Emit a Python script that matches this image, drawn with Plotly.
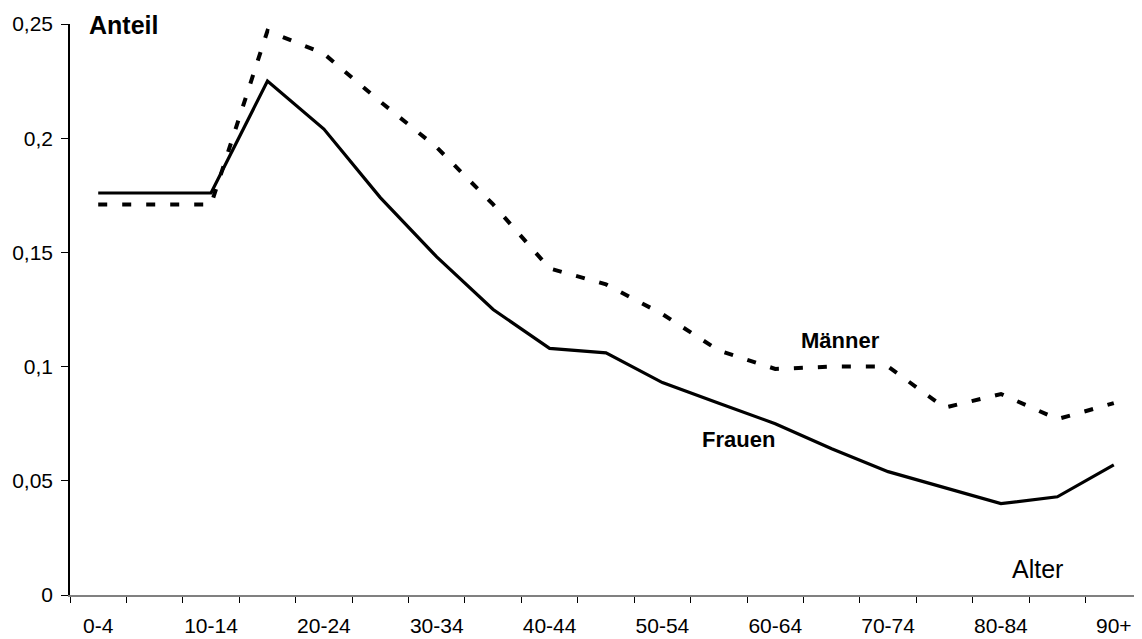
import plotly.graph_objects as go

# Altersgruppen (5-Jahres-Klassen)
age_groups = ['0-4', '5-9', '10-14', '15-19', '20-24', '25-29', '30-34', '35-39',
              '40-44', '45-49', '50-54', '55-59', '60-64', '65-69', '70-74',
              '75-79', '80-84', '85-89', '90+']

# Anteil je Altersgruppe
frauen = [0.176, 0.176, 0.176, 0.225, 0.204, 0.174, 0.148, 0.125, 0.108, 0.106,
          0.093, 0.084, 0.075, 0.064, 0.054, 0.047, 0.040, 0.043, 0.057]
maenner = [0.171, 0.171, 0.171, 0.247, 0.237, 0.216, 0.196, 0.171, 0.143, 0.136,
           0.123, 0.107, 0.099, 0.100, 0.100, 0.082, 0.088, 0.077, 0.084]

y_ticks = [0, 0.05, 0.1, 0.15, 0.2, 0.25]
y_ticktext = ['0', '0,05', '0,1', '0,15', '0,2', '0,25']

font_family = 'Arial, Liberation Sans, sans-serif'

fig = go.Figure()
fig.add_trace(go.Scatter(x=age_groups, y=maenner, mode='lines', name='Männer',
                         line=dict(color='black', width=4, dash='9px,15px')))
fig.add_trace(go.Scatter(x=age_groups, y=frauen, mode='lines', name='Frauen',
                         line=dict(color='black', width=3.2)))

# page body has an 8px margin, so the figure is 8px smaller and margins shifted
fig.update_layout(
    width=1134, height=631,
    margin=dict(l=62, r=0, t=16, b=44),
    plot_bgcolor='white', paper_bgcolor='white',
    showlegend=False,
    font=dict(family=font_family, size=21, color='black'),
    xaxis=dict(
        type='category',
        range=[-0.5, len(age_groups) - 0.5],
        tickmode='array',
        tickvals=age_groups,
        ticktext=[a if i % 2 == 0 else '' for i, a in enumerate(age_groups)],
        tickson='boundaries', tickangle=0, automargin=False,
        ticks='outside', ticklen=6, tickcolor='black', tickwidth=1,
        ticklabelstandoff=11,
        showline=True, linecolor='#808080', linewidth=2,
        showgrid=False, zeroline=False,
        tickfont=dict(size=21),
    ),
    yaxis=dict(
        range=[0, 0.25], automargin=False,
        tickmode='array', tickvals=y_ticks, ticktext=y_ticktext,
        ticks='outside', ticklen=7, tickcolor='black', tickwidth=1,
        ticklabelstandoff=4,
        showline=True, linecolor='black', linewidth=1.5,
        showgrid=False, zeroline=False,
        tickfont=dict(size=21),
    ),
)

fig.add_annotation(text='<b>Anteil</b>', xref='paper', yref='paper', x=0.016, y=0.998,
                   xanchor='left', yanchor='middle', showarrow=False, font=dict(size=25))
fig.add_annotation(text='<b>Männer</b>', x=13.15, y=0.1116, showarrow=False,
                   font=dict(size=22))
fig.add_annotation(text='<b>Frauen</b>', x=11.34, y=0.0683, showarrow=False,
                   font=dict(size=22))
fig.add_annotation(text='Alter', x=16.64, y=0.0114, showarrow=False,
                   font=dict(size=25))

fig.write_html('out.html')
